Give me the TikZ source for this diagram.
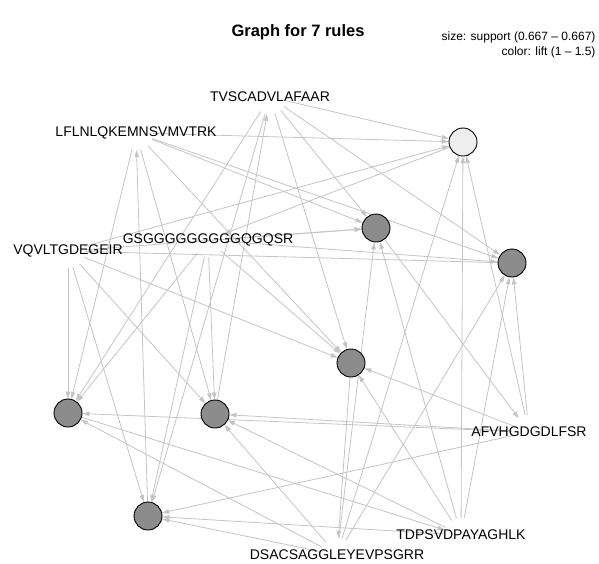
\documentclass[tikz,border=0pt]{standalone}
\usepackage{fontspec}
\setmainfont{Liberation Sans}
\usepackage{xcolor}
\usepackage{tikz}
\usetikzlibrary{arrows.meta}
\definecolor{edgec}{HTML}{C4C4C4}
\definecolor{rulec}{HTML}{8C8C8C}
\definecolor{rulel}{HTML}{EEEEEE}
\pgfdeclarelayer{bg}
\pgfsetlayers{bg,main}
\tikzset{
  edge/.style={-{Triangle[length=7pt,width=4.5pt]},edgec,line width=0.8pt},
  rulenode/.style={circle,draw=black,line width=0.9pt,fill=rulec,minimum size=28pt,inner sep=0pt},
  item/.style={circle,minimum size=34pt,inner sep=0pt},
  itemtext/.style={font=\fontsize{14}{16}\selectfont,inner sep=1pt}
}

\begin{document}
\begin{tikzpicture}[x=1pt,y=-1pt]
\useasboundingbox (0,0) rectangle (599,563);
% title and legend
\node[font=\fontsize{16.5}{19}\selectfont\bfseries] (title) at (298,32) {Graph for 7 rules};
\node[font=\fontsize{12}{14}\selectfont,anchor=east] (leg1) at (599,37) {size: support (0.667 -- 0.667)};
\node[font=\fontsize{12}{14}\selectfont,anchor=east] (leg2) at (599,52) {color: lift (1 -- 1.5)};
% items
\node[item,label={[itemtext]center:TVSCADVLAFAAR}] (tvs) at (270,97) {};
\node[item,label={[itemtext]center:LFLNLQKEMNSVMVTRK}] (lfl) at (136,133) {};
\node[item,label={[itemtext]center:GSGGGGGGGGGQGQSR}] (gsg) at (208,240) {};
\node[item,label={[itemtext]center:VQVLTGDEGEIR}] (vqv) at (68,251) {};
\node[item,label={[itemtext]center:AFVHGDGDLFSR}] (afv) at (529,432) {};
\node[item,label={[itemtext]center:TDPSVDPAYAGHLK}] (tdp) at (461,535) {};
\node[item,label={[itemtext]center:DSACSAGGLEYEVPSGRR}] (dsa) at (337,555) {};
% rules
\node[rulenode,fill=rulel] (r1) at (463,142) {};
\node[rulenode] (r2) at (376,228) {};
\node[rulenode] (r3) at (512,263) {};
\node[rulenode] (r4) at (351,363) {};
\node[rulenode] (r5) at (68,413) {};
\node[rulenode] (r6) at (215,414) {};
\node[rulenode] (r7) at (148,516) {};
% lhs -> rule, rule -> rhs
\begin{pgfonlayer}{bg}
\foreach \i in {tvs,lfl,vqv,afv,tdp,dsa} \draw[edge] (\i) -- (r1);
\draw[edge] (r1) -- (gsg);
\foreach \i in {tvs,lfl,gsg,vqv,tdp,dsa} \draw[edge] (\i) -- (r2);
\draw[edge] (r2) -- (afv);
\foreach \i in {tvs,lfl,gsg,afv,tdp,dsa} \draw[edge] (\i) -- (r3);
\draw[edge] (r3) -- (vqv);
\foreach \i in {tvs,lfl,gsg,vqv,afv,tdp} \draw[edge] (\i) -- (r4);
\draw[edge] (r4) -- (dsa);
\foreach \i in {tvs,lfl,gsg,vqv,afv,dsa} \draw[edge] (\i) -- (r5);
\draw[edge] (r5) -- (tdp);
\foreach \i in {lfl,gsg,vqv,afv,tdp,dsa} \draw[edge] (\i) -- (r6);
\draw[edge] (r6) -- (tvs);
\foreach \i in {tvs,gsg,vqv,afv,tdp,dsa} \draw[edge] (\i) -- (r7);
\draw[edge] (r7) -- (lfl);
\end{pgfonlayer}
\end{tikzpicture}
\end{document}
